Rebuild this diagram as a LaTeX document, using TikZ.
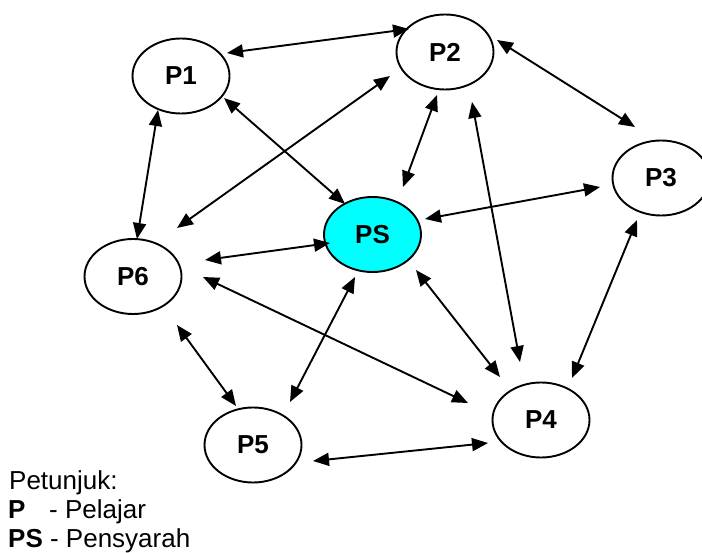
\documentclass[tikz,border=0pt]{standalone}
\usepackage{fontspec}
\setmainfont{Liberation Sans}
\usetikzlibrary{shapes.geometric,arrows.meta}
\definecolor{aqua}{RGB}{0,255,255}
\begin{document}
\begin{tikzpicture}[x=1pt,y=-1pt,
  pnode/.style={ellipse,draw,line width=1.9pt,minimum width=97pt,minimum height=75pt,inner sep=0pt,font=\fontsize{26}{30}\selectfont\bfseries},
  link/.style={{Triangle[length=16pt,width=13pt]}-{Triangle[length=16pt,width=13pt]},line width=1.9pt},
  legend/.style={anchor=base west,inner sep=0pt,font=\fontsize{26}{30}\selectfont}]
\useasboundingbox (0,0) rectangle (702,553);
\clip (0,0) rectangle (702,553);
% nodes
\node[pnode] (P1) at (181,76) {P1};
\node[pnode] (P2) at (445,52) {P2};
\node[pnode] (P3) at (661,178) {P3};
\node[pnode,fill=aqua] (PS) at (372.5,234.5) {PS};
\node[pnode] (P6) at (133,276.5) {P6};
\node[pnode] (P5) at (253,445) {P5};
\node[pnode] (P4) at (541,420) {P4};
% connector ends
\coordinate (p1p2a) at (227,53);  \coordinate (p1p2b) at (409,29);
\coordinate (p1psa) at (224,98);  \coordinate (p1psb) at (345,204);
\coordinate (p1p6a) at (158,110); \coordinate (p1p6b) at (137,239);
\coordinate (p2p6a) at (390,76);  \coordinate (p2p6b) at (177,228);
\coordinate (p2psa) at (437,95);  \coordinate (p2psb) at (403,187);
\coordinate (p2p4a) at (472,102); \coordinate (p2p4b) at (520,362);
\coordinate (p2p3a) at (497,40);  \coordinate (p2p3b) at (635,127);
\coordinate (psp3a) at (425,219); \coordinate (psp3b) at (600,187);
\coordinate (p4p3a) at (572,378); \coordinate (p4p3b) at (637,220);
\coordinate (psp4a) at (416,270); \coordinate (psp4b) at (500,377);
\coordinate (p6psa) at (205,260); \coordinate (p6psb) at (330,243);
\coordinate (p6p4a) at (203,277); \coordinate (p6p4b) at (468,403);
\coordinate (p5psa) at (290,402); \coordinate (p5psb) at (355,277);
\coordinate (p5p6a) at (236,406); \coordinate (p5p6b) at (177,325);
\coordinate (p5p4a) at (313,461); \coordinate (p5p4b) at (488,443);
% connectors
\draw[link] (p1p2a) -- (p1p2b);
\draw[link] (p1psa) -- (p1psb);
\draw[link] (p1p6a) -- (p1p6b);
\draw[link] (p2p6a) -- (p2p6b);
\draw[link] (p2psa) -- (p2psb);
\draw[link] (p2p4a) -- (p2p4b);
\draw[link] (p2p3a) -- (p2p3b);
\draw[link] (psp3a) -- (psp3b);
\draw[link] (p4p3a) -- (p4p3b);
\draw[link] (psp4a) -- (psp4b);
\draw[link] (p6psa) -- (p6psb);
\draw[link] (p6p4a) -- (p6p4b);
\draw[link] (p5psa) -- (p5psb);
\draw[link] (p5p6a) -- (p5p6b);
\draw[link] (p5p4a) -- (p5p4b);
% legend
\node[legend] (lg0) at (9,489) {Petunjuk:};
\node[legend] (lg1) at (8,518) {\textbf{P}};
\node[legend] (lg1b) at (49,518) {- Pelajar};
\node[legend] (lg2) at (8,547) {\textbf{PS} - Pensyarah};
\end{tikzpicture}
\end{document}
